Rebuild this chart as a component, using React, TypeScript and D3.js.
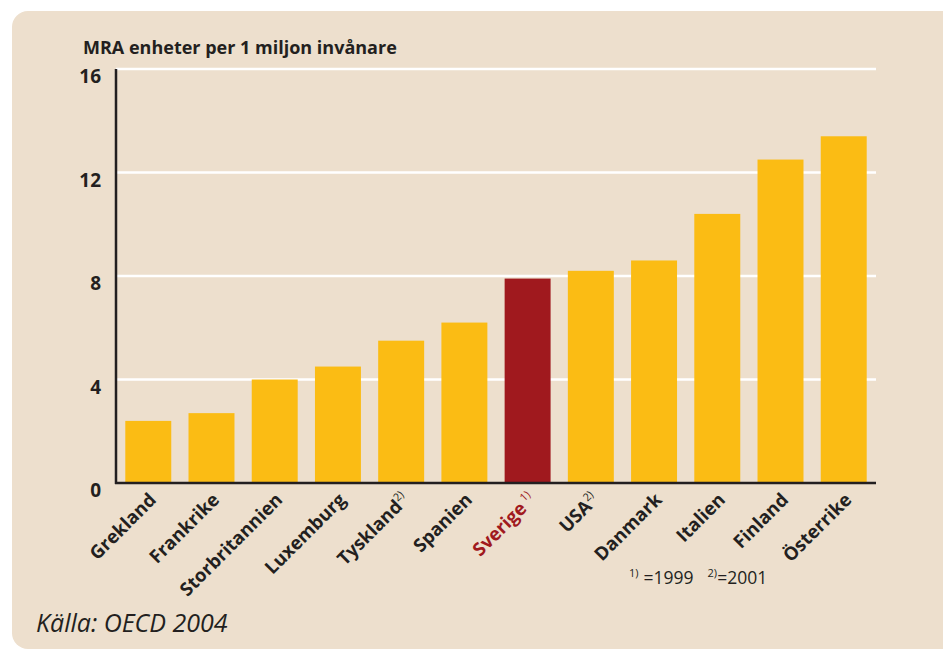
import React, { useRef, useEffect } from 'react';
import * as d3 from 'd3';

// Data
const countries = ['Grekland', 'Frankrike', 'Storbritannien', 'Luxemburg', 'Tyskland', 'Spanien', 'Sverige', 'USA', 'Danmark', 'Italien', 'Finland', 'Österrike'];
const units = [2.4, 2.7, 4.0, 4.5, 5.5, 6.2, 7.9, 8.2, 8.6, 10.4, 12.5, 13.4];
const notes = ['', '', '', '', '2)', '', '1)', '2)', '', '', '', ''];
const yTicks = [0, 4, 8, 12, 16];
const highlight = 'Sverige';

const App = () => {
  const ref = useRef<SVGSVGElement>(null);

  useEffect(() => {
    const svg = d3.select(ref.current);
    svg.selectAll('*').remove();

    const font = '"Open Sans", "DejaVu Sans", sans-serif';
    const ink = '#231f20';
    const barColor = '#fbbc14';
    const hiColor = '#a0191e';

    // background panel
    svg.append('rect')
      .attr('x', 12).attr('y', 11)
      .attr('width', 960).attr('height', 638)
      .attr('rx', 16)
      .attr('fill', '#eddfcd');

    const left = 116, right = 876, top = 69, bottom = 483;

    const x = d3.scaleBand()
      .domain(countries)
      .range([left, right])
      .paddingInner(0.273)
      .paddingOuter(0.147);

    const y = d3.scaleLinear()
      .domain([0, 16])
      .range([bottom, top]);

    // white gridlines
    svg.append('g')
      .selectAll('line')
      .data(yTicks.filter(d => d > 0))
      .join('line')
        .attr('x1', left).attr('x2', right)
        .attr('y1', d => y(d)).attr('y2', d => y(d))
        .attr('stroke', '#fff')
        .attr('stroke-width', 2.5);

    // bars
    svg.append('g')
      .selectAll('rect')
      .data(countries)
      .join('rect')
        .attr('x', d => x(d)!)
        .attr('width', x.bandwidth())
        .attr('y', (d, i) => y(units[i]))
        .attr('height', (d, i) => y(0) - y(units[i]))
        .attr('fill', d => d === highlight ? hiColor : barColor);

    // axes lines
    svg.append('line')
      .attr('x1', left).attr('x2', left)
      .attr('y1', top).attr('y2', bottom + 1)
      .attr('stroke', ink).attr('stroke-width', 2.5);
    svg.append('line')
      .attr('x1', left - 1).attr('x2', right)
      .attr('y1', bottom).attr('y2', bottom)
      .attr('stroke', ink).attr('stroke-width', 2.5);

    // y tick labels
    svg.append('g')
      .selectAll('text')
      .data(yTicks)
      .join('text')
        .attr('x', 101)
        .attr('y', d => y(d) + 14)
        .attr('text-anchor', 'end')
        .style('font-family', font)
        .style('font-weight', 700)
        .style('font-size', '19px')
        .attr('fill', ink)
        .text(d => d);

    // axis title
    svg.append('text')
      .attr('x', 83).attr('y', 54)
      .style('font-family', font)
      .style('font-weight', 700)
      .style('font-size', '18px')
      .attr('fill', ink)
      .text('MRA enheter per 1 miljon invånare');

    // x labels, rotated
    const labels = svg.append('g')
      .selectAll('text')
      .data(countries)
      .join('text')
        .attr('transform', d => `translate(${x(d)! + x.bandwidth() / 2 + 9}, 501) rotate(-45)`)
        .attr('text-anchor', 'end')
        .style('font-family', font)
        .style('font-weight', 700)
        .style('font-size', '18.5px')
        .attr('fill', d => d === highlight ? hiColor : ink);

    labels.append('tspan').text(d => d);
    labels.append('tspan')
      .attr('dy', -8)
      .attr('dx', d => d === highlight ? 3 : 0)
      .style('font-size', '11px')
      .style('font-weight', 400)
      .text((d, i) => notes[i]);

    // footnote
    const foot = svg.append('text')
      .attr('x', 629).attr('y', 584)
      .style('font-family', font)
      .style('font-size', '17.5px')
      .attr('fill', ink);
    foot.append('tspan').attr('dy', -7).style('font-size', '11px').text('1)');
    foot.append('tspan').attr('dy', 7).attr('dx', 5).text('=1999');
    foot.append('tspan').attr('dy', -7).attr('dx', 14).style('font-size', '11px').text('2)');
    foot.append('tspan').attr('dy', 7).text('=2001');

    // source
    svg.append('text')
      .attr('x', 36).attr('y', 632)
      .style('font-family', font)
      .style('font-style', 'italic')
      .style('font-size', '25px')
      .attr('fill', ink)
      .text('Källa: OECD 2004');
  }, []);

  return (
    <svg
      ref={ref}
      width={943}
      height={650}
      style={{ position: 'absolute', left: 0, top: 0, background: '#fff' }}
    />
  );
};

export default App;
